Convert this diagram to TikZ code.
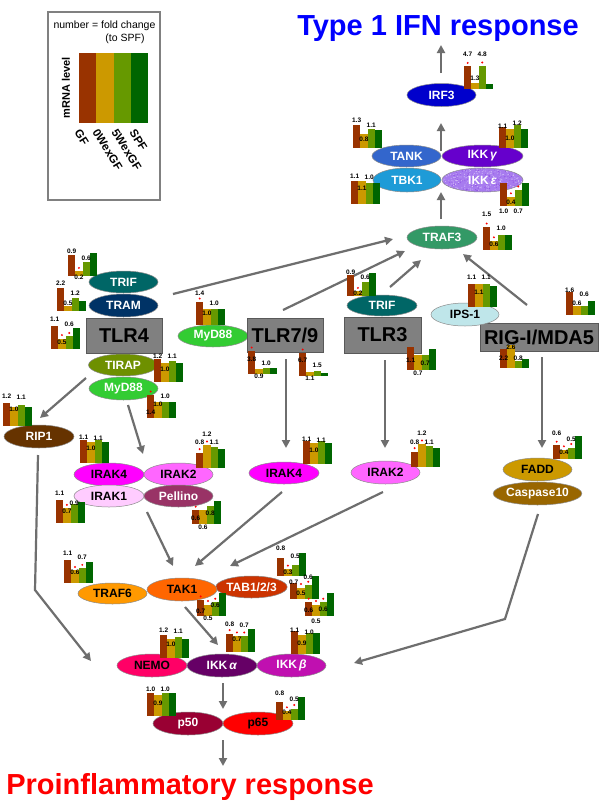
\documentclass[tikz,border=0pt]{standalone}
\usepackage{fontspec}
\setmainfont{Liberation Sans}
\usetikzlibrary{shapes.geometric,arrows.meta}
\definecolor{cGF}{HTML}{993300}
\definecolor{cOW}{HTML}{CC9900}
\definecolor{cFW}{HTML}{669900}
\definecolor{cSPF}{HTML}{006600}
\definecolor{lineg}{HTML}{6E6E6E}
\definecolor{boxgray}{HTML}{808080}
\definecolor{cirf}{HTML}{0000CC}
\definecolor{ctank}{HTML}{3366CC}
\definecolor{cikkg}{HTML}{6600CC}
\definecolor{ctbk}{HTML}{1E9BD7}
\definecolor{cikke}{HTML}{A77BEF}
\definecolor{ctraf3}{HTML}{339966}
\definecolor{ctrif}{HTML}{006666}
\definecolor{ctram}{HTML}{003366}
\definecolor{ctirap}{HTML}{6E9000}
\definecolor{cmyd}{HTML}{33CC33}
\definecolor{cips}{HTML}{BFE6EA}
\definecolor{cfadd}{HTML}{CC9900}
\definecolor{ccasp}{HTML}{996600}
\definecolor{crip}{HTML}{663300}
\definecolor{cirak4}{HTML}{FF00FF}
\definecolor{cirak2}{HTML}{FF66FF}
\definecolor{cirak1}{HTML}{FFCCFF}
\definecolor{cpell}{HTML}{993366}
\definecolor{ctraf6}{HTML}{FF9900}
\definecolor{ctak}{HTML}{FF6600}
\definecolor{ctab}{HTML}{CC3300}
\definecolor{cnemo}{HTML}{FF0066}
\definecolor{cikka}{HTML}{660066}
\definecolor{cikkb}{HTML}{C010B0}
\definecolor{cpfifty}{HTML}{990033}
\definecolor{cpsixtyfive}{HTML}{FF0000}
\definecolor{ctitle}{HTML}{0000FF}
\newcommand\mychart[9]{%
  \pgfmathsetmacro\cmax{max(#3,#4,#5,1)}%
  \pgfmathsetmacro\ha{23*#3/\cmax}%
  \pgfmathsetmacro\hb{23*#4/\cmax}%
  \pgfmathsetmacro\hc{23*#5/\cmax}%
  \pgfmathsetmacro\hd{23/\cmax}%
  \fill[cGF] (#1,#2) rectangle ++(7.3,-\ha);
  \fill[cOW] (#1+7.3,#2) rectangle ++(7.3,-\hb);
  \fill[cFW] (#1+14.6,#2) rectangle ++(7.3,-\hc);
  \fill[cSPF] (#1+21.9,#2) rectangle ++(7.3,-\hd);
  \foreach \s in {#9}{%
    \ifnum\s>0
      \pgfmathsetmacro\hh{{\ha,\hb,\hc}[\s-1]}%
      \fill[red] (#1+\s*7.3-3.65,#2-\hh-3.5) circle (1.1);
    \fi}
  \node[lab] (ch#1-#2a) at (#1+3.65,#6) {#3};
  \node[lab] (ch#1-#2b) at (#1+10.95,#7) {#4};
  \node[lab] (ch#1-#2c) at (#1+18.25,#8) {#5};
}
\begin{document}
\begin{tikzpicture}[x=1pt,y=-1pt,
  every node/.style={inner sep=0pt},
  ell/.style={ellipse, draw=black!45, line width=0.5pt, minimum width=69pt, minimum height=23pt, font=\fontsize{12}{12}\selectfont\bfseries},
  tlrbox/.style={rectangle, draw=black!65, fill=boxgray, line width=0.8pt, font=\fontsize{20}{20}\selectfont\bfseries},
  arr/.style={draw=lineg, line width=2.2pt, -{Triangle[length=8pt,width=8pt]}},
  lab/.style={font=\fontsize{6.5}{6.5}\selectfont\bfseries}]
\useasboundingbox (0,0) rectangle (600,807);
\fill[white] (0,0) rectangle (600,807);

% legend
\node[draw=black!50, line width=1.5pt, minimum width=112pt, minimum height=188pt] (legend) at (104,106) {};
\node[font=\fontsize{10.5}{10.5}\selectfont, anchor=base] (lgt1) at (104.5,28) {number = fold change};
\node[font=\fontsize{10.5}{10.5}\selectfont, anchor=base] (lgt2) at (125,41) {(to SPF)};
\node[font=\fontsize{11}{11}\selectfont\bfseries, rotate=90] (lgm) at (66,88) {mRNA level};
\fill[cGF] (79,53) rectangle (96.25,123);
\fill[cOW] (96.25,53) rectangle (113.5,123);
\fill[cFW] (113.5,53) rectangle (130.75,123);
\fill[cSPF] (130.75,53) rectangle (148,123);
\begin{scope}[every node/.style={font=\fontsize{11.5}{11.5}\selectfont\bfseries, rotate=-58, anchor=north west, inner sep=0pt}]
\node (lgf) at (81,128) {GF};
\node (low) at (99,128) {0WexGF};
\node (lfw) at (118,128) {5WexGF};
\node (lspf) at (136,128) {SPF};
\end{scope}

% titles
\node[font=\fontsize{29}{29}\selectfont\bfseries, text=ctitle, anchor=base] (ifn) at (438,35) {Type 1 IFN response};
\node[font=\fontsize{29}{29}\selectfont\bfseries, text=red, anchor=base] (pro) at (190,794) {Proinflammatory response};

% connector end coordinates
\coordinate (a1s) at (441,73);   \coordinate (a1e) at (441,45);
\coordinate (a2s) at (441,151);  \coordinate (a2e) at (441,123);
\coordinate (a3s) at (441,219);  \coordinate (a3e) at (441,192);
\coordinate (a4s) at (173,294);  \coordinate (a4e) at (393,239);
\coordinate (a5s) at (283,310);  \coordinate (a5e) at (405,251);
\coordinate (a6s) at (390,287);  \coordinate (a6e) at (421,260);
\coordinate (a7s) at (527,305);  \coordinate (a7e) at (463,254);
\coordinate (a8s) at (286,359);  \coordinate (a8e) at (286,448);
\coordinate (a9s) at (385,360);  \coordinate (a9e) at (385,448);
\coordinate (a10s) at (542,357); \coordinate (a10e) at (542,448);
\coordinate (a11s) at (86,378);  \coordinate (a11e) at (40,418);
\coordinate (a12s) at (128,405); \coordinate (a12e) at (143,454);
\coordinate (a13s) at (147,512); \coordinate (a13e) at (173,566);
\coordinate (a14s) at (282,492); \coordinate (a14e) at (195,566);
\coordinate (a15s) at (383,492); \coordinate (a15e) at (230,566);
\coordinate (a16s) at (38,455);  \coordinate (a16m) at (35,590); \coordinate (a16e) at (91,661);
\coordinate (a17s) at (185,607); \coordinate (a17e) at (218,645);
\coordinate (a18s) at (538,514); \coordinate (a18m) at (505,619); \coordinate (a18e) at (354,663);
\coordinate (a19s) at (223,683); \coordinate (a19e) at (223,709);
\coordinate (a20s) at (223,740); \coordinate (a20e) at (223,766);

\draw[arr] (a1s) -- (a1e);
\draw[arr] (a2s) -- (a2e);
\draw[arr] (a3s) -- (a3e);
\draw[arr] (a4s) -- (a4e);
\draw[arr] (a5s) -- (a5e);
\draw[arr] (a6s) -- (a6e);
\draw[arr] (a7s) -- (a7e);
\draw[arr] (a8s) -- (a8e);
\draw[arr] (a9s) -- (a9e);
\draw[arr] (a10s) -- (a10e);
\draw[arr] (a11s) -- (a11e);
\draw[arr] (a12s) -- (a12e);
\draw[arr] (a13s) -- (a13e);
\draw[arr] (a14s) -- (a14e);
\draw[arr] (a15s) -- (a15e);
\draw[arr] (a16s) -- (a16m) -- (a16e);
\draw[arr] (a17s) -- (a17e);
\draw[arr] (a18s) -- (a18m) -- (a18e);
\draw[arr] (a19s) -- (a19e);
\draw[arr] (a20s) -- (a20e);

% nodes
\node[ell, fill=cirf, text=white] (irf3) at (441.5,95) {IRF3};
\node[ell, fill=ctank, text=white, minimum height=22pt] (tank) at (406.5,156) {TANK};
\node[ell, fill=cikkg, text=white, minimum width=81pt, minimum height=22pt] (ikkg) at (482.5,156) {IKK\,\textit{γ}};
\node[ell, fill=ctbk, text=white, minimum width=68pt, minimum height=24pt] (tbk1) at (407,180) {TBK1};
\node[ell, fill=cikke, minimum width=81pt, minimum height=24pt] (ikke) at (482.5,180) {};
\begin{scope}
\clip (482.5,180) ellipse (40 and 11.6);
\pgfmathsetseed{7}
\foreach \i in {1,...,260}{\fill[white, opacity=0.45] ({482.5+rnd*80-40},{180+rnd*24-12}) circle (0.55);}
\foreach \i in {1,...,160}{\fill[cikkg, opacity=0.35] ({482.5+rnd*80-40},{180+rnd*24-12}) circle (0.5);}
\end{scope}
\node[font=\fontsize{12}{12}\selectfont\bfseries, text=white] (ikketxt) at (ikke.center) {IKK\,\textit{ε}};
\node[ell, fill=ctraf3, text=white, minimum width=70pt] (traf3) at (442,237.5) {TRAF3};

\node[ell, fill=ctrif, text=white, minimum height=22pt] (trif4) at (123.5,282) {TRIF};
\node[ell, fill=ctram, text=white] (tram) at (123.5,305.5) {TRAM};
\node[tlrbox, minimum width=76pt, minimum height=35pt] (tlr4) at (124,335.5) {TLR4};
\node[ell, fill=ctirap, text=white, minimum height=22pt] (tirap) at (123,365) {TIRAP};
\node[ell, fill=cmyd, text=white] (myd4) at (123.5,388.5) {MyD88};
\node[ell, fill=cmyd, text=white, minimum width=70pt, minimum height=22pt] (myd7) at (213,336) {MyD88};
\node[tlrbox, minimum width=76pt, minimum height=34pt] (tlr7) at (285,335) {TLR7/9};
\node[tlrbox, minimum width=77pt, minimum height=36pt] (tlr3) at (382.5,335) {TLR3};
\node[ell, fill=ctrif, text=white, minimum width=70pt, minimum height=21pt] (trif3) at (382,305.5) {TRIF};
\node[tlrbox, minimum width=118pt, minimum height=28pt] (rig) at (539,337) {RIG-I/MDA5};
\node[ell, fill=cips, text=black, minimum width=68pt] (ips) at (465,314.5) {IPS-1};

\node[ell, fill=crip, text=white, minimum width=70pt] (rip1) at (39,436.5) {RIP1};
\node[ell, fill=cirak4, text=black, minimum width=70pt] (irak4a) at (109,474.5) {IRAK4};
\node[ell, fill=cirak2, text=black] (irak2a) at (178.5,474.5) {IRAK2};
\node[ell, fill=cirak1, text=black, minimum width=70pt, minimum height=22pt] (irak1) at (109,496) {IRAK1};
\node[ell, fill=cpell, text=white, minimum height=22pt] (pell) at (178.5,496) {Pellino};
\node[ell, fill=cirak4, text=black, minimum width=70pt, minimum height=22pt] (irak4b) at (284,473) {IRAK4};
\node[ell, fill=cirak2, text=black] (irak2b) at (385.5,472.5) {IRAK2};
\node[ell, fill=cfadd, text=black] (fadd) at (537.5,469.5) {FADD};
\node[ell, fill=ccasp, text=white] (casp) at (537.5,493.5) {Caspase10};

\node[ell, fill=ctraf6, text=black, minimum height=21pt] (traf6) at (112.5,593.5) {TRAF6};
\node[ell, fill=ctab, text=white, minimum height=22pt] (tab) at (251.5,587) {TAB1/2/3};
\node[ell, fill=ctak, text=black, minimum width=70pt] (tak1) at (182,589.5) {TAK1};
\node[ell, fill=cnemo, text=black, minimum width=70pt] (nemo) at (152,665.5) {NEMO};
\node[ell, fill=cikka, text=white, minimum width=70pt] (ikka) at (222,665.5) {IKK\,\textit{α}};
\node[ell, fill=cikkb, text=white] (ikkb) at (291.5,665.5) {IKK\,\textit{β}};
\node[ell, fill=cpfifty, text=white, minimum width=70pt] (p50) at (188,723.5) {p50};
\node[ell, fill=cpsixtyfive, text=black, minimum width=70pt] (p65) at (258,723.5) {p65};

% charts: x, bottom, v1, v2, v3, label y1, y2, y3, stars
\mychart{464}{89}{4.7}{1.3}{4.8}{54}{78}{54}{1,3}
\mychart{353}{148}{1.3}{0.8}{1.1}{120}{139}{125}{0}
\mychart{499}{148}{1.1}{1.0}{1.2}{126}{138}{123}{0}
\mychart{351}{204}{1.1}{1.1}{1.0}{176}{188}{177}{0}
\mychart{500}{206}{1.0}{0.4}{0.7}{211}{202}{211}{2,3}
\mychart{483}{250}{1.5}{0.6}{1.0}{214}{244}{228}{1,2}
\mychart{68}{276}{0.9}{0.2}{0.6}{251}{277}{258}{2}
\mychart{57}{311}{2.2}{0.5}{1.2}{283}{303}{293}{0}
\mychart{51}{349}{1.1}{0.5}{0.6}{319}{342}{324}{2,3}
\mychart{154}{382}{1.2}{1.0}{1.1}{356}{369}{356}{0}
\mychart{147}{418}{1.4}{1.0}{1.0}{412}{404}{396}{1}
\mychart{196}{325}{1.4}{1.0}{1.0}{293}{313}{303}{1}
\mychart{248}{374}{3.8}{0.9}{1.0}{359}{376}{363}{1}
\mychart{299}{376}{6.7}{1.1}{1.5}{360}{378}{365}{1}
\mychart{347}{296}{0.9}{0.2}{0.6}{272}{293}{277}{2}
\mychart{407}{370}{1.1}{0.7}{0.7}{360}{373}{363}{0}
\mychart{468}{307}{1.1}{1.1}{1.1}{277}{292}{277}{0}
\mychart{566}{315}{1.6}{0.6}{0.6}{290}{303}{294}{0}
\mychart{500}{368}{2.2}{2.6}{0.8}{358}{347}{358}{0}
\mychart{303}{464}{1.1}{1.0}{1.1}{439}{450}{440}{0}
\mychart{411}{467}{0.8}{1.2}{1.1}{442}{433}{442}{1,2}
\mychart{553}{459}{0.6}{0.4}{0.5}{433}{452}{439}{1,2,3}
\mychart{3}{426}{1.2}{1.0}{1.1}{396}{409}{397}{0}
\mychart{80}{463}{1.1}{1.0}{1.1}{437}{448}{438}{0}
\mychart{196}{468}{0.8}{1.2}{1.1}{442}{434}{442}{1,2}
\mychart{56}{523}{1.1}{0.7}{0.9}{493}{511}{503}{2}
\mychart{192}{524}{0.6}{0.6}{0.8}{518}{527}{513}{1}
\mychart{64}{583}{1.1}{0.6}{0.7}{553}{572}{557}{2,3}
\mychart{197}{616}{0.7}{0.5}{0.6}{611}{618}{605}{1,2,3}
\mychart{277}{576}{0.8}{0.3}{0.5}{548}{572}{556}{2}
\mychart{290}{599}{0.7}{0.5}{0.6}{582}{593}{577}{2,3}
\mychart{305}{616}{0.6}{0.5}{0.6}{610}{621}{609}{1,2,3}
\mychart{160}{658}{1.2}{1.0}{1.1}{630}{644}{631}{0}
\mychart{226}{652}{0.8}{0.7}{0.7}{624}{639}{625}{1,2,3}
\mychart{291}{654}{1.1}{0.9}{1.0}{630}{643}{632}{0}
\mychart{147}{716}{1.0}{0.9}{1.0}{689}{703}{689}{0}
\mychart{276}{720}{0.8}{0.4}{0.5}{693}{712}{699}{2,3}
\end{tikzpicture}
\end{document}
